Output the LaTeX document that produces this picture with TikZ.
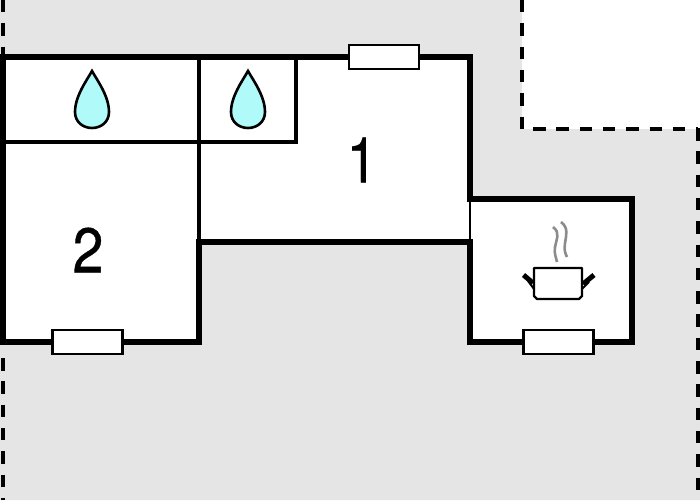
\documentclass[tikz,border=0pt]{standalone}
\usepackage{fontspec}
\setmainfont{TeX Gyre Heros}
\newfontfamily\roomfont[FakeBold=0.6]{TeX Gyre Heros}
\usepackage{xcolor}
\definecolor{plotgray}{rgb}{0.898, 0.898, 0.898}
\definecolor{dropblue}{rgb}{0.69, 0.98, 0.98}
\definecolor{steamgray}{rgb}{0.55, 0.55, 0.55}
\tikzset{
	wall/.style={line width=5.8pt, line join=miter},
	inner wall/.style={line width=3.2pt},
	fence/.style={line width=3.2pt, dash pattern=on 12.5pt off 10.8pt},
	roomnumber/.style={font=\roomfont\fontsize{63}{63}\selectfont, inner sep=0pt, xscale=0.88},
	windowbox/.style={draw, fill=white, line width=2.4pt, minimum width=70pt, minimum height=24pt, inner sep=0pt},
	dropshape/.style={draw, fill=dropblue, line width=2.6pt, line join=miter},
}
\newcommand{\waterdrop}[1]{
	\draw[dropshape] (#1,71) .. controls (#1+5,80) and (#1+17,96) .. (#1+17,112)
		.. controls (#1+17,122) and (#1+9,128) .. (#1,128)
		.. controls (#1-9,128) and (#1-17,122) .. (#1-17,112)
		.. controls (#1-17,96) and (#1-5,80) .. (#1,71) -- cycle;
}

\begin{document}
\begin{tikzpicture}[x=1pt, y=-1pt]
			\useasboundingbox (0,0) rectangle (700,500);
			\fill[plotgray] (0,0) -- (522,0) -- (522,129) -- (700,129) -- (700,500) -- (0,500) -- cycle;
			\draw[fence] (3,0) -- (3,57);
			\draw[fence] (3,358) -- (3,500);
			\draw[fence] (522,0) -- (522,129);
			\draw[fence] (533,129) -- (698,129);
			\draw[fence] (698,128) -- (698,500);
			% rooms
			\fill[white] (3,57) -- (470,57) -- (470,199) -- (632,199) -- (632,342) -- (470,342) -- (470,242) -- (199,242) -- (199,342) -- (3,342) -- cycle;
			\draw[inner wall] (199,57) -- (199,242);
			\draw[inner wall] (3,142) -- (296,142);
			\draw[inner wall] (296,57) -- (296,143.6);
			\draw[line width=1.5pt] (470,199) -- (470,242);
			\draw[wall] (470,199) -- (470,57) -- (3,57) -- (3,342) -- (199,342) -- (199,242) -- (470,242);
			\draw[wall] (470,239) -- (470,342) -- (632,342) -- (632,199) -- (467,199);
			% windows
			\node[windowbox] (windowtop) at (384,57) {};
			\node[windowbox] (windowleft) at (87.5,342) {};
			\node[windowbox] (windowright) at (558.5,342) {};
			\waterdrop{92}
			\waterdrop{248}
			\node[roomnumber] (roomone) at (362,160) {1};
			\node[roomnumber] (roomtwo) at (88,250) {2};
			% pot
			\draw[line width=2.4pt, line join=round] (534,268) -- (582,268) -- (582,296) -- (579,299) -- (537,299) -- (534,296) -- cycle;
			\draw[line width=2pt] (534,289) -- (528,281);
			\draw[line width=2pt] (582,289) -- (589,282);
			\draw[line width=5pt] (523.5,275) -- (533,283);
			\draw[line width=5pt] (594,275) -- (583,284);
			\draw[steamgray, line width=2.6pt] (553,227) .. controls (561,233) and (556,240) .. (555,247) .. controls (554,254) and (556,257) .. (557,262);
			\draw[steamgray, line width=2.6pt] (561,222) .. controls (569,228) and (566,236) .. (565,243) .. controls (564,250) and (565,253) .. (567,257);
\end{tikzpicture}
\end{document}
